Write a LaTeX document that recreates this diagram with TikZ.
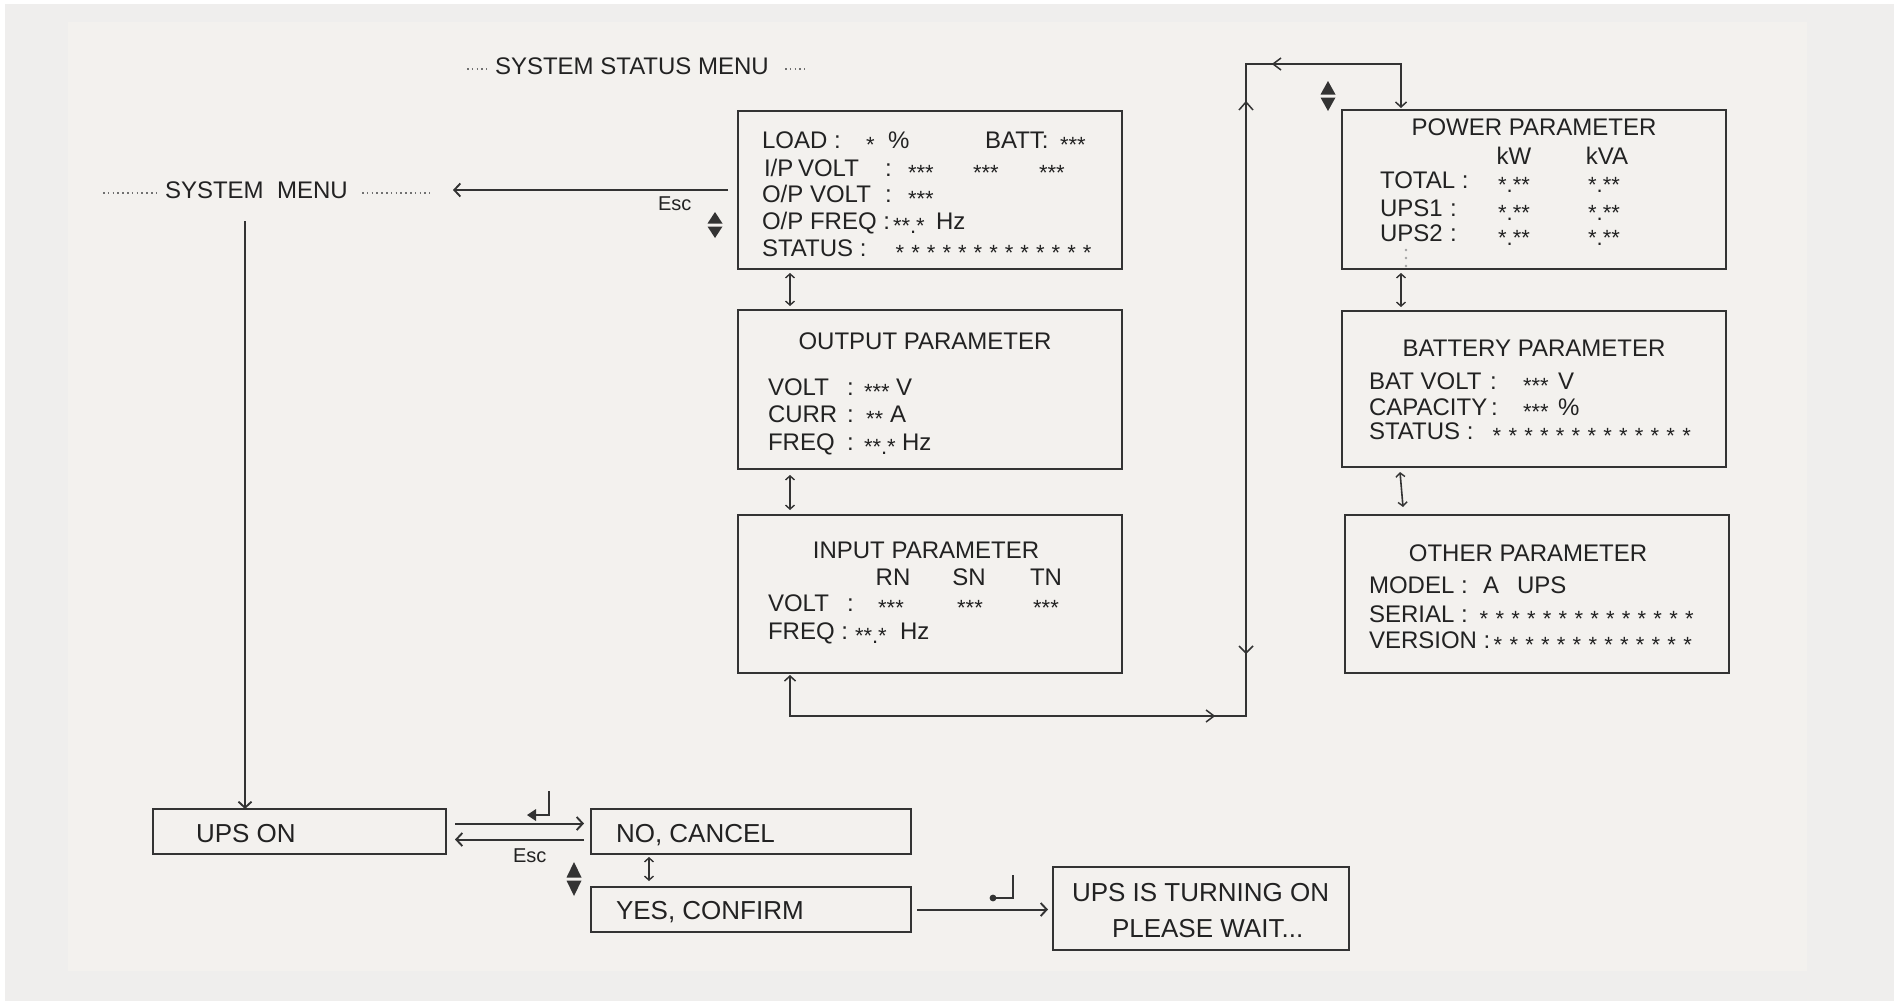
\documentclass[tikz,border=0pt]{standalone}
\usepackage{fontspec}
\setmainfont{Liberation Sans}
\usetikzlibrary{arrows.meta}
\definecolor{ln}{HTML}{333333}
\definecolor{tc}{HTML}{222222}
\definecolor{bgo}{HTML}{EFEEED}
\definecolor{bgi}{HTML}{F3F1EE}
\newcounter{tn}
\tikzset{
 txt/.style={anchor=base west, inner sep=0pt, outer sep=0pt, text=tc, font=\fontsize{24}{26}\selectfont},
 ctxt/.style={txt, anchor=base},
 btxt/.style={txt, font=\fontsize{26}{28}\selectfont},
 stxt/.style={txt, font=\fontsize{20}{22}\selectfont},
 box/.style={draw=ln, line width=2.3pt, rectangle, inner sep=0pt, outer sep=0pt},
 conn/.style={draw=ln, line width=2pt},
 tip/.style={-{Straight Barb[length=6pt,width=13pt,line width=1.9pt]}},
 dbl/.style={draw=ln, line width=1.6pt, {Straight Barb[length=4pt,width=9pt,line width=1.4pt]}-{Straight Barb[length=4pt,width=9pt,line width=1.4pt]}},
 mk/.style={draw=ln, line width=1.5pt},
 dots/.style={draw=ln!70, line width=1.6pt, dash pattern=on 1.6pt off 3.2pt},
}
\newcommand\stf[1]{{\fontsize{22}{22}\selectfont\raisebox{-4pt}{#1}}}
\newcommand\T[3]{\stepcounter{tn}\node[txt] (t\arabic{tn}) at (#1,{#2+8.5}) {#3};}
\newcommand\Tc[3]{\stepcounter{tn}\node[ctxt] (t\arabic{tn}) at (#1,{#2+8.5}) {#3};}
\newcommand\Tb[3]{\stepcounter{tn}\node[btxt] (t\arabic{tn}) at (#1,{#2+9.3}) {#3};}
\newcommand\Ts[3]{\stepcounter{tn}\node[stxt] (t\arabic{tn}) at (#1,{#2+7}) {#3};}
\newcommand\stx[3]{\stepcounter{tn}\node[txt] (t\arabic{tn}) at (#1,{#2+8.5}) {\stf{#3}};}
\newcommand\stc[3]{\stepcounter{tn}\node[ctxt] (t\arabic{tn}) at (#1,{#2+8.5}) {\stf{#3}};}
\newcommand\srow[4]{\stepcounter{tn}\node[txt] (t\arabic{tn}) at ({#1-#4/2},{#2+8.5}) {\foreach \k in {1,...,#3}{\makebox[#4pt]{\stf{*}}}};}
\newcommand\B[5]{\node[box, minimum width={(#4-#2)*1pt}, minimum height={(#5-#3)*1pt}] (#1) at ({(#2+#4)/2},{(#3+#5)/2}) {};}
\newcommand\UD[3]{%
 \fill[ln] (#1-7.5,{(#2+#3)/2-1.5}) -- (#1+7.5,{(#2+#3)/2-1.5}) -- (#1,#2) -- cycle;
 \fill[ln] (#1-7.5,{(#2+#3)/2+1.5}) -- (#1+7.5,{(#2+#3)/2+1.5}) -- (#1,#3) -- cycle;}
\begin{document}
\begin{tikzpicture}[x=1pt,y=-1pt]
\useasboundingbox (0,0) rectangle (1894,1001);
\fill[white] (0,0) rectangle (1894,1001);
\fill[bgo] (5,4) rectangle (1894,1001);
\fill[bgi] (68,22) rectangle (1807,971);

% ---------- boxes ----------
\B{stat}{738}{111}{1122}{269}
\B{outp}{738}{310}{1122}{469}
\B{inp}{738}{515}{1122}{673}
\B{pow}{1342}{110}{1726}{269}
\B{bat}{1342}{311}{1726}{467}
\B{oth}{1345}{515}{1729}{673}
\B{upson}{153}{809}{446}{854}
\B{nocan}{591}{809}{911}{854}
\B{yescf}{591}{887}{911}{932}
\B{turn}{1053}{867}{1349}{950}

% ---------- headings ----------
\T{495}{66}{SYSTEM STATUS MENU}
\draw[dots] (467,69) -- (487,69);
\draw[dots] (785,69) -- (805,69);
\T{165}{190}{SYSTEM\ \ MENU}
\draw[dots] (103,193) -- (157,193);
\draw[dots] (362,193) -- (430,193);

% ---------- status box ----------
\T{762}{140}{LOAD :}
\stx{866}{140}{*}
\T{888}{140}{\%}
\T{985}{140}{BATT:}
\stx{1060}{140}{***}
\T{764}{168}{I/P}
\T{798}{168}{VOLT}
\T{885}{168}{:}
\stx{908}{168}{***}
\stx{973}{168}{***}
\stx{1039}{168}{***}
\T{762}{194}{O/P VOLT}
\T{885}{194}{:}
\stx{908}{194}{***}
\T{762}{221}{O/P FREQ :}
\stx{893}{221}{**.*}
\T{936}{221}{Hz}
\T{762}{248}{STATUS :}
\srow{900}{248}{13}{15.6}

% ---------- output box ----------
\Tc{925}{341}{OUTPUT PARAMETER}
\T{768}{387}{VOLT}
\T{847}{387}{:}
\stx{864}{387}{***}
\T{896}{387}{V}
\T{768}{414}{CURR}
\T{847}{414}{:}
\stx{866}{414}{**}
\T{890}{414}{A}
\T{768}{442}{FREQ}
\T{847}{442}{:}
\stx{864}{442}{**.*}
\T{902}{442}{Hz}

% ---------- input box ----------
\Tc{926}{550}{INPUT PARAMETER}
\Tc{893}{577}{RN}
\Tc{969}{577}{SN}
\Tc{1046}{577}{TN}
\T{768}{603}{VOLT}
\T{847}{603}{:}
\stc{891}{603}{***}
\stc{970}{603}{***}
\stc{1046}{603}{***}
\T{768}{631}{FREQ :}
\stx{855}{631}{**.*}
\T{900}{631}{Hz}

% ---------- power box ----------
\Tc{1534}{127}{POWER PARAMETER}
\Tc{1514}{156}{kW}
\Tc{1607}{156}{kVA}
\T{1380}{180}{TOTAL :}
\stc{1514}{180}{*.**}
\stc{1604}{180}{*.**}
\T{1380}{208}{UPS1}
\T{1450}{208}{:}
\stc{1514}{208}{*.**}
\stc{1604}{208}{*.**}
\T{1380}{233}{UPS2}
\T{1450}{233}{:}
\stc{1514}{233}{*.**}
\stc{1604}{233}{*.**}
\fill[ln!45] (1406,250) circle (1.3) (1406,258) circle (1.3) (1406,266) circle (1.3);

% ---------- battery box ----------
\Tc{1534}{348}{BATTERY PARAMETER}
\T{1369}{381}{BAT VOLT}
\T{1490}{381}{:}
\stx{1523}{381}{***}
\T{1558}{381}{V}
\T{1369}{407}{CAPACITY}
\T{1491}{407}{:}
\stx{1523}{407}{***}
\T{1558}{407}{\%}
\T{1369}{431}{STATUS :}
\srow{1497}{431}{13}{15.8}

% ---------- other box ----------
\Tc{1528}{553}{OTHER PARAMETER}
\T{1369}{585}{MODEL :}
\T{1483}{585}{A}
\T{1517}{585}{UPS}
\T{1369}{614}{SERIAL :}
\srow{1484}{614}{14}{15.8}
\T{1369}{640}{VERSION :}
\srow{1498}{640}{13}{15.8}

% ---------- bottom boxes ----------
\Tb{196}{833}{UPS ON}
\Tb{616}{833}{NO, CANCEL}
\Tb{616}{910}{YES, CONFIRM}
\Tb{1072}{892}{UPS IS TURNING ON}
\Tb{1112}{928}{PLEASE WAIT...}

% ---------- connectors ----------
\coordinate (escend) at (453,190);
\draw[conn,tip] ([xshift=-10]stat.west) -- (escend);
\Ts{658}{203}{Esc}
\UD{715}{212}{238}

\coordinate (smd) at (245,221);
\draw[conn,line width=1.6pt,tip] (smd) -- (smd |- upson.north);

\draw[dbl] ([shift={(52,4)}]stat.south west) -- ([shift={(52,-4)}]outp.north west);
\draw[dbl] ([shift={(52,6)}]outp.south west) -- ([shift={(52,-5)}]inp.north west);
\draw[dbl] ([shift={(59,4)}]pow.south west) -- ([shift={(59,-4)}]bat.north west);
\draw[dbl] ([shift={(58,5)}]bat.south west) -- ([shift={(58,-8)}]oth.north west);

\coordinate (lbr) at (1246,716);
\coordinate (ltr) at (1246,64);
\draw[conn, {Straight Barb[length=5pt,width=11pt,line width=1.5pt]}-{Straight Barb[length=5pt,width=11pt,line width=1.5pt]}]
  ([xshift=52,yshift=-2]inp.south west) |- (lbr) -- (ltr) -| ([xshift=59,yshift=2]pow.north west);
\draw[mk] (1206,710) -- (1214,716) -- (1206,722);
\draw[mk] (1239,110) -- (1246,102) -- (1253,110);
\draw[mk] (1239,646) -- (1246,653) -- (1253,646);
\draw[mk] (1281,58) -- (1273,64) -- (1281,70);
\UD{1328}{81}{111}

\draw[conn,tip] ([shift={(9,-8)}]upson.east) -- ([shift={(-7,-8)}]nocan.west);
\draw[conn,tip] ([shift={(-7,8)}]nocan.west) -- ([shift={(9,8)}]upson.east);
\draw[ln, line width=2.8pt] (549,791) -- (549,815) -- (534,815);
\fill[ln] (527,815) -- (536,809) -- (536,821) -- cycle;
\Ts{513}{855}{Esc}
\UD{574}{862}{896}
\draw[dbl, line width=1.3pt] ([shift={(58,3)}]nocan.south west) -- ([shift={(58,-6)}]yescf.north west);

\draw[conn,tip] ([xshift=6]yescf.east) -- ([xshift=-5]turn.west |- yescf.east);
\draw[ln, line width=2.8pt] (1013,875) -- (1013,898) -- (995,898);
\fill[ln] (993,898) circle (3.4);
\end{tikzpicture}
\end{document}
